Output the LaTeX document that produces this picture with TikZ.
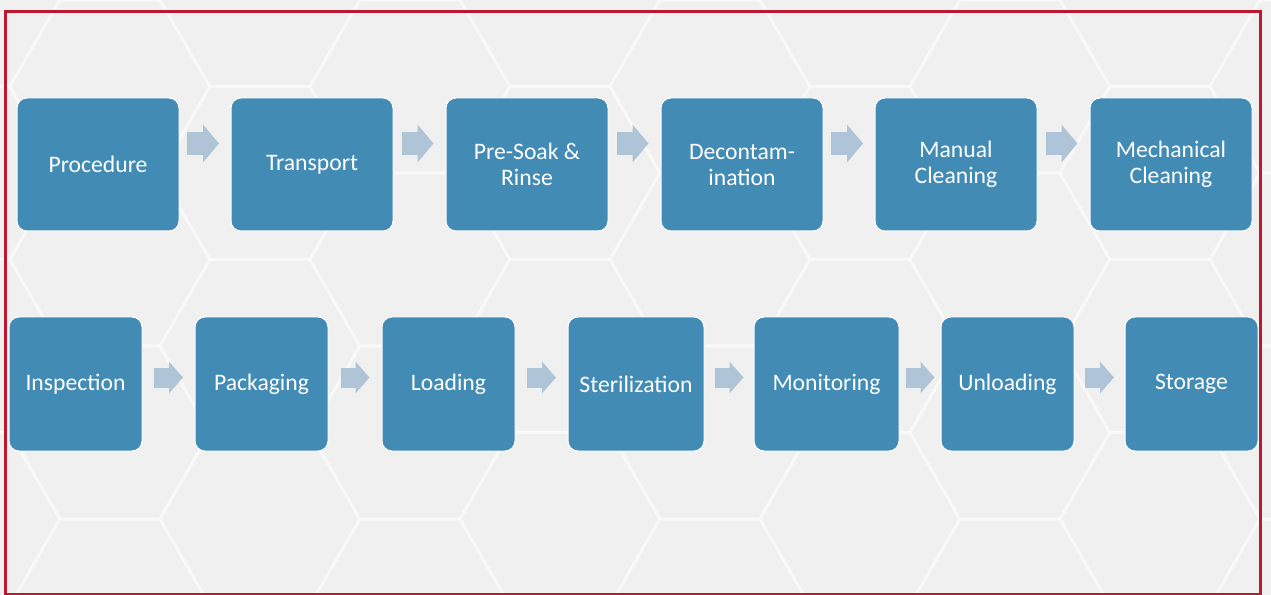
\documentclass[tikz,border=0pt]{standalone}
\usepackage{fontspec}
\setmainfont{Carlito}
\usetikzlibrary{positioning,arrows.meta,calc}
\definecolor{stepblue}{RGB}{66,139,181}
\definecolor{flowgray}{RGB}{176,196,216}
\definecolor{framered}{RGB}{188,24,48}
\definecolor{bggray}{RGB}{243,243,243}
\definecolor{hexgray}{RGB}{232,232,232}
\tikzset{
  stage/.style={rectangle, rounded corners=7.5pt, draw=white, line width=0.75pt,
                fill=stepblue, text=white, align=center, inner sep=0pt, outer sep=0pt,
                font=\fontsize{17.75}{19.5}\selectfont},
  stageA/.style={stage, minimum width=121.5pt, minimum height=99.75pt},
  stageB/.style={stage, minimum width=99.75pt, minimum height=100.5pt},
  flowA/.style={draw=flowgray, line width=17.25pt, -{Triangle[length=12pt,width=27.75pt]}},
  flowB/.style={draw=flowgray, line width=15pt, -{Triangle[length=10.5pt,width=23.25pt]}},
  hex/.style={draw=white, line width=2.25pt, fill=hexgray, fill opacity=0.25, draw opacity=0.45}
}

\begin{document}
\begin{tikzpicture}[x=0.75pt, y=-0.75pt]
  % page and faint hex background
  \fill[bggray] (0,0) rectangle (1271,595);
  \useasboundingbox (0,0) rectangle (1271,595);
  \begin{scope}
    \clip (0,0) rectangle (1271,595);
    \foreach \c in {0,...,9} {
      \foreach \r in {-1,...,4} {
        \pgfmathsetmacro{\hx}{\c*150-40}
        \pgfmathsetmacro{\hy}{\r*173+mod(\c,2)*86.5}
        \draw[hex] (\hx,\hy) +(0:100) -- +(60:100) -- +(120:100) -- +(180:100)
          -- +(240:100) -- +(300:100) -- cycle;
      }
    }
  \end{scope}
  \draw[framered, line width=2.25pt] (5,12) rectangle (1260.5,594);

  % first row
  \node[stageA] (proc) at (98,164.5) {Procedure};
  \node[stageA, right=39pt of proc] (trans) {Transport};
  \node[stageA, right=39.75pt of trans] (soak) {Pre-Soak \&\\Rinse};
  \node[stageA, right=39.75pt of soak] (decon) {Decontam-\\ination};
  \node[stageA, right=39pt of decon] (manual) {Manual\\Cleaning};
  \node[stageA, right=39.75pt of manual] (mech) {Mechanical\\Cleaning};

  % second row
  \node[stageB] (insp) at (75.5,384) {Inspection};
  \node[stageB, right=39.75pt of insp] (pack) {Packaging};
  \node[stageB, right=40.5pt of pack] (load) {Loading};
  \node[stageB, minimum width=102pt, right=39.75pt of load] (steril) {Sterilization};
  \node[stageB, minimum width=108.75pt, right=37.5pt of steril] (monit) {Monitoring};
  \node[stageB, right=31.5pt of monit] (unload) {Unloading};
  \node[stageB, right=38.25pt of unload] (store) {Storage};

  \foreach \a/\b in {proc/trans, trans/soak, soak/decon, decon/manual, manual/mech}
    \draw[flowA] ($(\a.east)!0.5!(\b.west)+(-18,-21)$) -- ($(\a.east)!0.5!(\b.west)+(14,-21)$);
  \foreach \a/\b in {insp/pack, pack/load, load/steril, steril/monit, monit/unload, unload/store}
    \draw[flowB] ($(\a.east)!0.5!(\b.west)+(-14.5,-6.5)$) -- ($(\a.east)!0.5!(\b.west)+(14.5,-6.5)$);
\end{tikzpicture}
\end{document}
